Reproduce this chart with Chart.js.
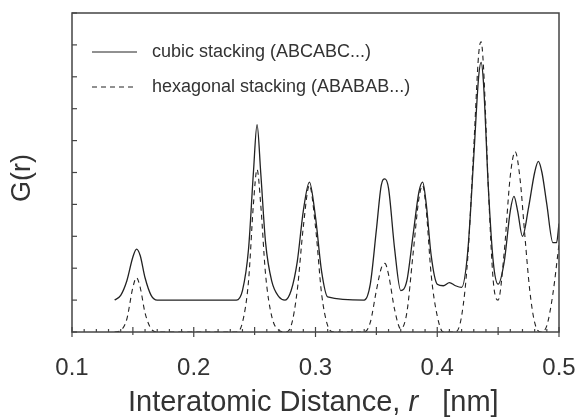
<!DOCTYPE html>
<html><head><meta charset="utf-8">
<script src="https://cdn.jsdelivr.net/npm/chart.js@4/dist/chart.umd.min.js"></script>
<style>html,body{margin:0;padding:0;background:#fff}#w{width:580px;height:418px}</style>
</head><body><div id="w"><canvas id="c"></canvas></div>
<script>
const cubicR=[0.135,0.140,0.145,0.150,0.153,0.156,0.160,0.165,0.170,0.20,0.235,0.240,0.245,0.249,0.252,0.255,0.259,0.264,0.270,0.275,0.280,0.285,0.290,0.295,0.300,0.305,0.310,0.340,0.345,0.350,0.354,0.357,0.360,0.365,0.370,0.375,0.380,0.385,0.388,0.391,0.395,0.400,0.405,0.410,0.415,0.420,0.425,0.430,0.434,0.436,0.438,0.442,0.446,0.450,0.455,0.460,0.463,0.466,0.470,0.475,0.480,0.483,0.486,0.490,0.495,0.498,0.500];
const cubicG=[1.0,1.15,1.6,2.35,2.6,2.4,1.7,1.15,1.0,1.0,1.0,1.3,2.6,5.0,6.5,5.0,2.8,1.6,1.1,1.0,1.3,2.2,3.8,4.7,3.6,1.9,1.1,1.0,1.5,3.2,4.6,4.8,4.5,2.6,1.3,1.6,3.0,4.4,4.7,4.0,2.4,1.5,1.45,1.55,1.45,1.4,2.5,5.5,8.0,8.45,7.8,4.5,2.2,1.5,2.2,3.8,4.25,3.8,3.0,3.9,5.0,5.35,5.0,4.0,2.8,2.8,3.4];
const hexR=[0.135,0.140,0.145,0.150,0.153,0.156,0.160,0.165,0.170,0.235,0.240,0.245,0.249,0.252,0.255,0.259,0.264,0.270,0.275,0.280,0.285,0.290,0.295,0.300,0.305,0.310,0.315,0.340,0.345,0.350,0.354,0.357,0.360,0.365,0.370,0.375,0.380,0.385,0.388,0.391,0.395,0.400,0.405,0.415,0.420,0.425,0.430,0.434,0.436,0.438,0.442,0.446,0.450,0.455,0.460,0.464,0.468,0.472,0.476,0.480,0.485,0.490,0.495,0.500];
const hexG=[0,0.05,0.4,1.4,1.7,1.4,0.6,0.1,0,0,0.3,1.6,4.0,5.1,4.0,1.8,0.5,0.05,0,0.2,1.3,3.3,4.6,3.3,1.2,0.2,0,0,0.3,1.3,2.0,2.15,1.8,0.7,0.1,0.6,2.4,4.2,4.6,3.8,1.8,0.5,0,0,0.5,2.3,5.8,8.7,9.1,8.3,4.5,1.6,1.0,2.5,4.9,5.65,4.8,3.0,1.3,0.3,0,0.2,1.2,2.75];
const xTicks=[0.1,0.2,0.3,0.4,0.5];
const labels=['cubic stacking (ABCABC...)','hexagonal stacking (ABABAB...)'];
const pts=(r,g)=>r.map((x,i)=>({x:x,y:g[i]}));
const F='"Liberation Sans", Arial';
const deco={id:'deco',afterDraw(ch){
 const c=ch.ctx,a=ch.chartArea,xs=ch.scales.x,ys=ch.scales.y;
 c.save();c.strokeStyle='#444';c.lineWidth=1.5;
 c.strokeRect(a.left,a.top,a.right-a.left,a.bottom-a.top);
 c.lineWidth=1.2;
 for(let v=0;v<=10;v++){const y=ys.getPixelForValue(v);c.beginPath();c.moveTo(a.left,y);c.lineTo(a.left+5,y);c.stroke();}
 for(let i=0;i<=40;i++){const v=0.1+i*0.01;const x=xs.getPixelForValue(v);c.beginPath();
  if(i%10==0){c.moveTo(x,a.bottom-5);c.lineTo(x,a.bottom+5);}else if(i%5==0){c.moveTo(x,a.bottom-5);c.lineTo(x,a.bottom+3);}else{c.moveTo(x,a.bottom-3);c.lineTo(x,a.bottom);}c.stroke();}
 c.fillStyle='#333';c.font='18px '+F;c.textBaseline='middle';c.strokeStyle='#222';c.lineWidth=1;
 [[52,[]],[87,[5,4]]].forEach((o,i)=>{c.setLineDash(o[1]);c.beginPath();c.moveTo(92,o[0]);c.lineTo(137,o[0]);c.stroke();c.setLineDash([]);c.fillText(labels[i],152,o[0]);});
 c.textBaseline='alphabetic';
 const s='29px '+F,si='italic 29px '+F;
 const p1='Interatomic Distance, ',p2='r',p3='   [nm]';
 c.font=s;const w1=c.measureText(p1).width;c.font=si;const w2=c.measureText(p2).width;
 let x0=128,yb=411;
 c.font=s;c.fillText(p1,x0,yb);c.font=si;c.fillText(p2,x0+w1,yb);c.font=s;c.fillText(p3,x0+w1+w2,yb);
 c.translate(30,178);c.rotate(-Math.PI/2);c.textAlign='center';c.font='27px '+F;c.fillText('G(r)',0,0);
 c.restore();}};
new Chart(document.getElementById('c'),{type:'line',
 data:{datasets:[
  {label:labels[0],data:pts(cubicR,cubicG),borderColor:'#222',borderWidth:1.3,pointRadius:0,cubicInterpolationMode:'monotone',fill:false},
  {label:labels[1],data:pts(hexR,hexG),borderColor:'#222',borderWidth:1.1,borderDash:[5,4],pointRadius:0,cubicInterpolationMode:'monotone',fill:false}]},
 options:{responsive:true,maintainAspectRatio:false,animation:false,
  layout:{padding:{top:13,right:21,left:0,bottom:0}},
  plugins:{legend:{display:false},tooltip:{enabled:false}},
  scales:{
   x:{type:'linear',min:0.1,max:0.5,grid:{display:false},border:{display:false},
      afterBuildTicks(s){s.ticks=xTicks.map(v=>({value:v}));},
      afterFit(s){s.height=86;s.paddingRight=0;s.paddingLeft=0;},
      ticks:{color:'#333',font:{size:24,family:F},padding:14,callback:v=>v.toFixed(1)}},
   y:{min:0,max:10,grid:{display:false},border:{display:false},ticks:{display:false},afterFit(s){s.width=72;}}}},
 plugins:[deco]});
</script></body></html>
